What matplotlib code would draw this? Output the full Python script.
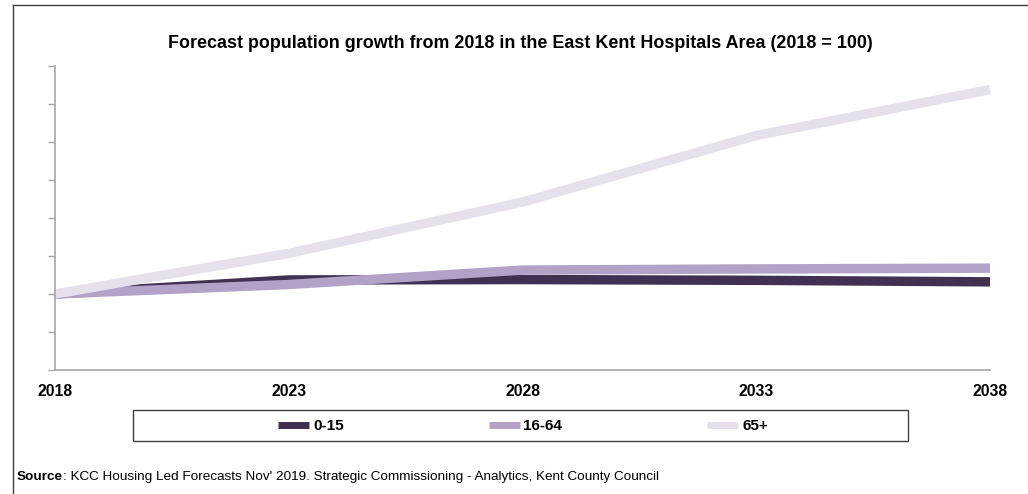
import matplotlib
matplotlib.use("Agg")
import matplotlib.pyplot as plt
from matplotlib.lines import Line2D
from matplotlib.patches import Rectangle

# ---- data ----
years = [2018, 2023, 2028, 2033, 2038]
age_0_15 = [100, 103.7, 103.8, 103.6, 103.2]
age_16_64 = [100, 102.5, 106.3, 106.6, 106.8]
age_65_plus = [100, 110.7, 124.2, 141.7, 153.8]
series_names = ["0-15", "16-64", "65+"]
series_colors = ["#403152", "#B3A2C7", "#E6E0EC"]
xtick_labels = ["2018", "2023", "2028", "2033", "2038"]
title = "Forecast population growth from 2018 in the East Kent Hospitals Area (2018 = 100)"
source_bold = "Source"
source_rest = ": KCC Housing Led Forecasts Nov' 2019. Strategic Commissioning - Analytics, Kent County Council"

W, H = 1028, 494
fig = plt.figure(figsize=(W / 100, H / 100), dpi=100)
fig.patch.set_facecolor("white")

ax = fig.add_axes([55 / W, (H - 370) / H, (990 - 55) / W, (370 - 66) / H])
series = [age_0_15, age_16_64, age_65_plus]
for vals, name, col in zip(series, series_names, series_colors):
    ax.plot(years, vals, color=col, lw=6.8, solid_capstyle="butt",
            solid_joinstyle="miter", label=name, clip_on=False)

ax.set_xlim(2018, 2038)
ax.set_ylim(80, 160)
ax.set_xticks(years)
ax.set_xticklabels(xtick_labels, fontfamily="Liberation Sans", fontweight="bold", fontsize=11.3)
ax.set_yticks(range(80, 161, 10))
ax.set_yticklabels([])
ax.tick_params(axis="x", length=0, pad=10)
ax.tick_params(axis="y", length=5, width=1, color="#A6A6A6", direction="out")
for s in ["top", "right"]:
    ax.spines[s].set_visible(False)
for s in ["left", "bottom"]:
    ax.spines[s].set_color("#A6A6A6")
    ax.spines[s].set_linewidth(1.2)

# title
fig.text(520 / W, 1 - 44 / H, title, ha="center", va="center",
         fontfamily="Liberation Sans", fontweight="bold", fontsize=12.9)

# legend box
fig.patches.append(Rectangle((133 / W, 1 - 441 / H), (908 - 133) / W, (441 - 410) / H,
                             transform=fig.transFigure, fill=False, edgecolor="#404040", lw=1))
leg_handles = [Line2D([0], [0], color=c, lw=5, solid_capstyle="butt") for c in series_colors]
fs = 11
fig.legend(leg_handles, series_names, loc="center", bbox_to_anchor=(523 / W, 1 - 426 / H),
           ncol=3, frameon=False, handlelength=31 / (fs * 100 / 72), handletextpad=0.25,
           columnspacing=145 / (fs * 100 / 72),
           prop={"family": "Liberation Sans", "weight": "bold", "size": fs})

# source
t1 = fig.text(17 / W, 1 - 477 / H, source_bold, ha="left", va="center",
              fontfamily="Liberation Sans", fontweight="bold", fontsize=9.7)
fig.canvas.draw()
bb = t1.get_window_extent(renderer=fig.canvas.get_renderer())
fig.text(bb.x1 / W, 1 - 477 / H, source_rest, ha="left", va="center",
         fontfamily="Liberation Sans", fontsize=9.7)

# outer border fragments
fig.add_artist(Line2D([13 / W, 13 / W], [0, 1 - 5 / H], transform=fig.transFigure, color="#404040", lw=1))
fig.add_artist(Line2D([13 / W, 1], [1 - 5 / H, 1 - 5 / H], transform=fig.transFigure, color="#404040", lw=1))

fig.savefig("out.png", dpi=100)
